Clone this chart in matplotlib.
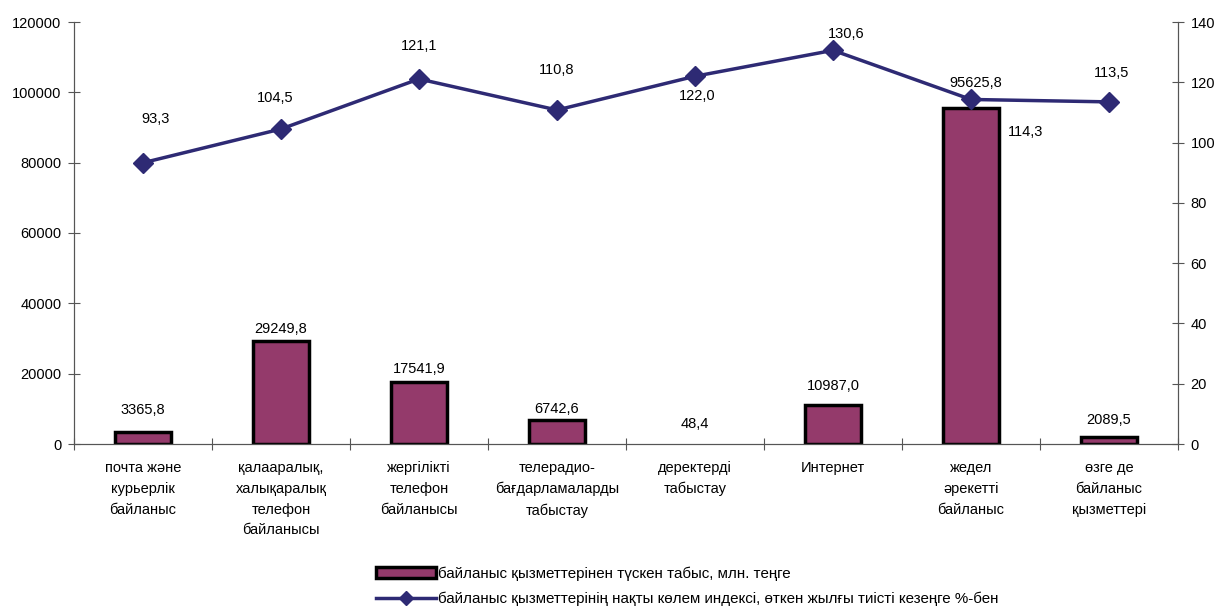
import matplotlib.pyplot as plt
import numpy as np

plt.rcParams['font.family'] = ['Liberation Sans', 'DejaVu Sans']
plt.rcParams['font.size'] = 10

# data
categories = ['почта және\nкурьерлік\nбайланыс',
              'қалааралық,\nхалықаралық\nтелефон\nбайланысы',
              'жергілікті\nтелефон\nбайланысы',
              'телерадио-\nбағдарламаларды\nтабыстау',
              'деректерді\nтабыстау',
              'Интернет',
              'жедел\nәрекетті\nбайланыс',
              'өзге де\nбайланыс\nқызметтері']
revenue = [3365.8, 29249.8, 17541.9, 6742.6, 48.4, 10987.0, 95625.8, 2089.5]
index_pct = [93.3, 104.5, 121.1, 110.8, 122.0, 130.6, 114.3, 113.5]

bar_label_off = [(0, 22), (0, 12), (0, 13), (0, 11), (0, 20), (0, 19), (5, 25), (0, 17)]
line_label_off = [(13, 44), (-6, 31), (0, 33), (0, 40), (2, -20), (13, 16), (55, -33), (3, 29)]

bar_color = '#943A6B'
line_color = '#2E2A74'

fig = plt.figure(figsize=(12.18, 6.08), dpi=100)
ax = fig.add_axes([74/1218, 1 - 444/608, (1178 - 74)/1218, 422/608])
x = np.arange(len(categories))

bars = ax.bar(x, revenue, width=0.41, color=bar_color, edgecolor='black', linewidth=2.5,
              label='байланыс қызметтерінен түскен табыс, млн. теңге', zorder=2)
# bars thinner than a pixel are not visible in the original
for b, v in zip(bars, revenue):
    if v < 300:
        b.set_linewidth(0)
ax.set_ylim(0, 120000)
ax.set_xlim(-0.5, len(categories) - 0.5)
ax.set_yticks(np.arange(0, 120001, 20000))
ax.set_xticks(np.arange(-0.5, len(categories), 1))
ax.set_xticklabels([])
ax.tick_params(axis='x', direction='inout', length=8, color='#555555')
ax.tick_params(axis='y', direction='inout', length=8, color='#555555', labelsize=10.5, pad=5)
for i, lab in enumerate(categories):
    ax.text(i, -0.04, lab, transform=ax.get_xaxis_transform(), ha='center', va='top',
            fontsize=10.5, linespacing=1.62)
ax.spines['top'].set_visible(False)
for s in ['left', 'right', 'bottom']:
    ax.spines[s].set_color('#555555')

for i, v in enumerate(revenue):
    ax.annotate(f'{v:.1f}'.replace('.', ','), (i, v), xytext=bar_label_off[i],
                textcoords='offset pixels', ha='center', va='center', fontsize=10.5)

ax2 = ax.twinx()
ax2.set_position(ax.get_position())
ax2.plot(x, index_pct, color=line_color, linewidth=2.5, marker='D', markersize=10,
         label='байланыс қызметтерінің нақты көлем индексі, өткен жылғы тиісті кезеңге %-бен')
ax2.set_ylim(0, 140)
ax2.set_yticks(np.arange(0, 141, 20))
ax2.tick_params(axis='y', direction='inout', length=8, color='#555555', labelsize=10.5, pad=5)
ax2.spines['top'].set_visible(False)
for s in ['left', 'right', 'bottom']:
    ax2.spines[s].set_color('#555555')

for i, v in enumerate(index_pct):
    ax2.annotate(f'{v:.1f}'.replace('.', ','), (i, v), xytext=line_label_off[i],
                 textcoords='offset pixels', ha='center', va='center', fontsize=10.5)

h1, l1 = ax.get_legend_handles_labels()
h2, l2 = ax2.get_legend_handles_labels()
fig.legend(h1 + h2, l1 + l2, loc='upper left', bbox_to_anchor=(368/1218, 1 - 559/608),
           frameon=False, fontsize=10.9, handlelength=4, handletextpad=0.1,
           labelspacing=0.7, borderpad=0, markerscale=0.75)

fig.savefig('out.png', dpi=100)
